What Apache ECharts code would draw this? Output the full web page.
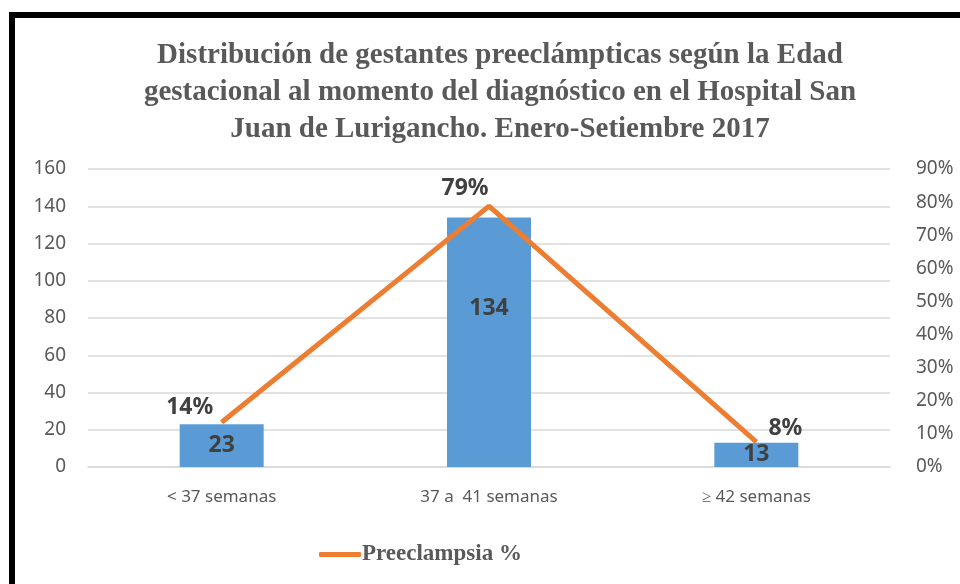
<!DOCTYPE html>
<html>
<head>
<meta charset="utf-8">
<script src="https://cdn.jsdelivr.net/npm/echarts@6/dist/echarts.min.js"></script>
<style>
html, body { margin: 0; padding: 0; background: #fff; }
#chart { width: 960px; height: 584px; }
</style>
</head>
<body>
<div id="chart"></div>
<script>
const categories = ['< 37 semanas', '37 a  41 semanas', '≥ 42 semanas'];
const cases = [23, 134, 13];
const percent = [13.5, 78.8, 7.6];
const percentLabels = ['14%', '79%', '8%'];

const grey = '#595959';
const labelFont = 'Noto Sans';
const titleFont = 'Liberation Serif';
// label nudges for the percentage labels, as in the original
const pctShift = [[-32, 2], [-24, -1], [29, 4]];

const option = {
    backgroundColor: '#fff',
    animation: false,
    title: {
        text: 'Distribución de gestantes preeclámpticas según la Edad\ngestacional al momento del diagnóstico en el Hospital San\nJuan de Lurigancho. Enero-Setiembre 2017',
        left: 495,
        top: 32,
        textAlign: 'center',
        textStyle: {
            color: grey,
            fontFamily: titleFont,
            fontWeight: 'bold',
            fontSize: 29,
            lineHeight: 37,
        },
    },
    graphic: [
        { type: 'rect', shape: { x: 9, y: 12, width: 6, height: 572 }, style: { fill: '#000' } },
        { type: 'rect', shape: { x: 9, y: 12, width: 951, height: 6 }, style: { fill: '#000' } },
    ],
    legend: {
        data: ['Preeclampsia %'],
        left: 314,
        top: 538,
        itemWidth: 42,
        itemHeight: 5,
        itemGap: 4,
        icon: 'roundRect',
        textStyle: {
            color: grey,
            fontFamily: titleFont,
            fontWeight: 'bold',
            fontSize: 23,
            padding: [0, 0, 0, -4],
        },
    },
    grid: { left: 88, right: 70, top: 169, bottom: 117 },
    xAxis: {
        type: 'category',
        data: categories,
        axisTick: { show: false },
        axisLine: { lineStyle: { color: '#d9d9d9', width: 1.5 } },
        axisLabel: { color: grey, fontFamily: labelFont, fontSize: 17, margin: 22 },
    },
    yAxis: [
        {
            type: 'value',
            min: 0, max: 160, interval: 20,
            axisLine: { show: false },
            axisTick: { show: false },
            axisLabel: { color: grey, fontFamily: labelFont, fontSize: 19, margin: 22 },
            splitLine: { lineStyle: { color: '#d9d9d9', width: 1.5 } },
        },
        {
            type: 'value',
            min: 0, max: 90, interval: 10,
            axisLine: { show: false },
            axisTick: { show: false },
            axisLabel: { color: grey, fontFamily: labelFont, fontSize: 19, margin: 26, formatter: '{value}%' },
            splitLine: { show: false },
        },
    ],
    series: [
        {
            name: 'Gestantes',
            type: 'bar',
            barWidth: 84,
            itemStyle: { color: '#5b9bd5' },
            label: {
                show: true,
                position: 'inside',
                color: '#404040',
                fontFamily: labelFont,
                fontWeight: 'bold',
                fontSize: 23,
            },
            data: cases.map(function (v, i) {
                const item = { value: v };
                if (i === 1) item.label = { position: 'insideTop', distance: 80 };
                return item;
            }),
        },
        {
            name: 'Preeclampsia %',
            type: 'line',
            yAxisIndex: 1,
            symbol: 'circle',
            symbolSize: 1,
            showSymbol: true,
            color: '#ed7d31',
            itemStyle: { color: '#ed7d31' },
            lineStyle: { color: '#ed7d31', width: 5 },
            label: {
                show: true,
                position: 'top',
                color: '#404040',
                fontFamily: labelFont,
                fontWeight: 'bold',
                fontSize: 23,
                formatter: function (p) { return percentLabels[p.dataIndex]; },
            },
            labelLayout: function (p) {
                const s = pctShift[p.dataIndex];
                return { dx: s[0], dy: s[1], hideOverlap: false };
            },
            data: percent,
        },
    ],
};

const chart = echarts.init(document.getElementById('chart'));
chart.setOption(option);
</script>
</body>
</html>
